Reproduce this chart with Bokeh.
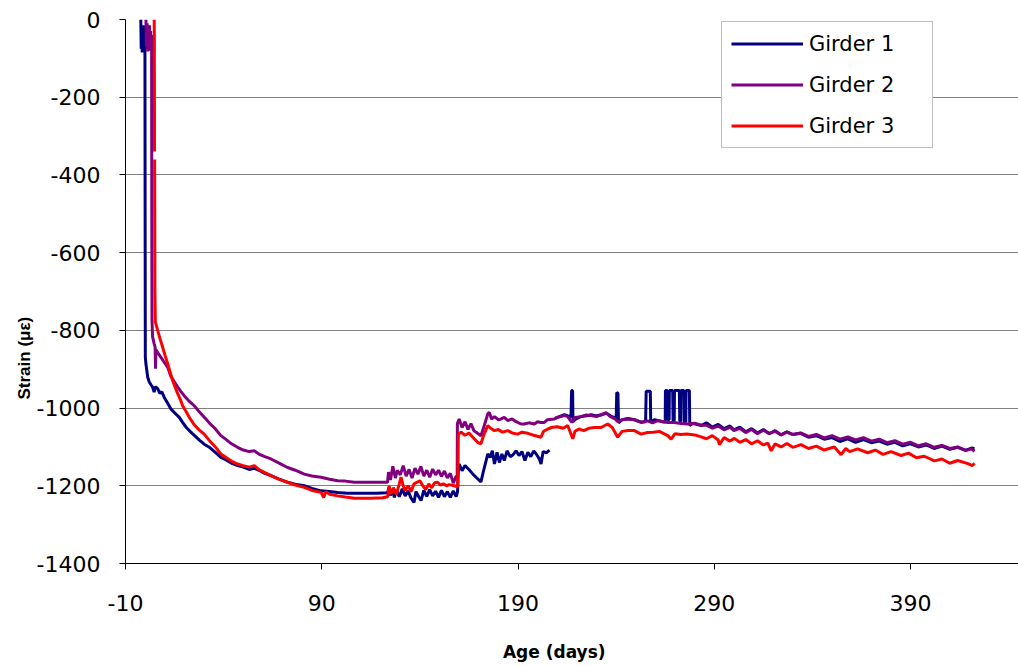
import math
from bokeh.plotting import figure
from bokeh.models import FixedTicker, Legend, LegendItem, ColumnDataSource, CustomJSTickFormatter, Title
from bokeh.embed import file_html
from bokeh.resources import INLINE

nan = float("nan")

# ---------------- data ----------------
x_ticks = [-10, 90, 190, 290, 390]
y_ticks = [-1400, -1200, -1000, -800, -600, -400, -200, 0]
series_names = ["Girder 1", "Girder 2", "Girder 3"]
x_title = "Age (days)"
y_title = "Strain (\u03bc\u03b5)"

g1_day = [-2.2, -2.0, -1.8, -1.5, -1.2, -0.9, -0.6, -0.3, -0.1, 0.0, 0.1, 0.4, 0.9, 1.3, 2.1, 3.0, 3.8, 4.6, 5.2, 6.4,
          7.5, 8.5, 9.7, 11.2, 13.1, 15.0, 17.4, 19.0, 21.0, 23.3, 25.5, 27.8, 30.1, 32.5, 35.5, 38.6, 41.5, 44.5, 47.1, 50.0,
          53.0, 55.6, 58.0, 61.0, 64.1, 68.0, 72.6, 76.5, 81.1, 85.0, 89.6, 94.0, 98.1, 103, 110, 118, 123.5,
          124.2, 125.0, 126.0, 127.0, 128.0, 129.5, 131.0, 132.5, 134.0, 135.5, 137.0, 138.0, 139.5, 140.6, 142.0, 143.5,
          145.0, 146.5, 148.0, 149.5, 151.0, 152.5, 154.0, 155.5, 157.0, 158.5, 159.2,
          159.5, 160.0, 161.5, 163.0, 165.0, 167.0, 169.0, 171.1, 172.5, 174.6, 175.8, 176.9, 178.0, 179.3, 180.5, 181.8,
          183.0, 184.4, 186.0, 187.5, 189.0, 190.5, 192.0, 193.5, 195.0, 196.5, 198.0, 199.5, 200.8, 201.7, 202.8, 204.5, 206.0,
          206.5,
          209.0, 211.0, 213.6, 215.5, 217.0, 217.3, 217.8, 218.0, 219.5, 222.0, 225.0, 227.2, 230.0, 232.3, 234.9, 237.0,
          239.5, 240.0, 240.3, 240.9, 241.2, 243.0, 246.0, 249.3, 252.7, 255.0, 255.3, 257.4, 257.6, 259.5, 261.2, 263.5,
          265.0, 265.1, 266.0, 266.3, 267.0, 267.1, 268.8, 269.0, 269.6, 269.7, 272.2, 272.4, 272.9, 273.0, 274.5, 274.7,
          275.5, 275.6, 277.3, 277.5, 279.0, 281.0, 283.3,
          286, 289, 292, 295, 298, 300, 303, 306, 309, 312, 315, 318, 321, 324, 327, 330, 334, 338, 342, 346, 350, 354,
          358, 362, 366, 370, 374, 378, 382, 386, 390, 394, 398, 402, 406, 410, 414, 418, 421, 422.6]
g1_strain = [0, -75, -20, -85, -30, -80, -15, -70, -40, -500, -869, -886, -905, -920, -933, -940, -946, -959, -945, -950,
             -962, -958, -972, -985, -1002, -1012, -1024, -1036, -1050, -1062, -1072, -1083, -1093, -1100, -1113, -1127, -1134, -1143, -1148, -1152,
             -1158, -1155, -1160, -1168, -1174, -1182, -1191, -1196, -1200, -1207, -1213, -1215, -1217, -1219, -1219, -1219, -1218,
             -1205, -1225, -1210, -1230, -1212, -1228, -1208, -1226, -1213, -1232, -1243, -1215, -1229, -1238, -1212, -1227,
             -1210, -1226, -1214, -1230, -1212, -1228, -1215, -1230, -1213, -1228, -1215,
             -1166, -1144, -1161, -1148, -1158, -1170, -1180, -1190, -1160, -1118, -1127, -1110, -1144, -1114, -1140, -1118,
             -1135, -1110, -1125, -1120, -1110, -1122, -1112, -1135, -1114, -1125, -1110, -1120, -1130, -1144, -1112, -1115, -1108,
             nan,
             -1026, -1022, -1017, -1020, -1022, -955, -955, -1035, -1028, -1022, -1020, -1017, -1020, -1018, -1013, -1020,
             -1025, -1030, -960, -962, -1038, -1030, -1027, -1030, -1036, -1035, -957, -957, -1035, -1030, -1032, -1035,
             -1036, -955, -955, -1030, -1030, -955, -955, -1032, -1032, -955, -955, -1034, -1034, -955, -955, -1036,
             -1036, -955, -955, -1045, -1040, -1042, -1045,
             -1038, -1049, -1042, -1053, -1046, -1056, -1049, -1061, -1053, -1064, -1055, -1066, -1058, -1069, -1061, -1068,
             -1065, -1075, -1071, -1080, -1076, -1086, -1079, -1088, -1081, -1089, -1085, -1093, -1088, -1097, -1092, -1100,
             -1095, -1104, -1098, -1106, -1101, -1109, -1103, -1104]

g2_day = [0.4, 0.7, 1.0, 1.3, 1.6, 1.9, 2.2, 2.5, 2.8, 3.1, 3.3, 3.4, 3.5, 3.8, 4.6, 5.1, 5.3, 5.5, 6.5, 8.0,
          9.7, 11.5, 13.1, 14.8, 16.6, 18.2, 19.9, 22.0, 25.0, 27.0, 29.3, 31.0, 33.0, 35.5, 38.6, 41.0, 44.0, 47.1, 50.0, 53.0,
          55.6, 58.5, 61.0, 64.1, 68.0, 72.6, 76.5, 81.1, 85.0, 89.6, 94.0, 98.1, 102.0, 106.6, 115.0, 123.5,
          124.0, 125.0, 126.2, 127.5, 128.5, 130.0, 131.5, 133.0, 134.5, 136.0, 137.5, 139.0, 140.5, 142.0, 143.5, 145.0,
          146.5, 148.0, 149.5, 151.0, 152.5, 154.0, 155.5, 157.0, 158.5, 159.0,
          159.1, 160.0, 161.5, 163.0, 164.5, 166.0, 167.5, 169.4, 171.1, 172.5, 174.6, 175.4, 176.5, 178.0, 180.0, 181.3,
          183.0, 184.8, 187.0, 189.0, 191.5, 193.2, 195.5, 198.3, 200.0, 201.7, 203.4, 205.0, 208.5, 210.2, 213.6, 215.3,
          217.4, 219.0, 222.0, 224.5, 227.2, 230.0, 232.3, 234.9, 237.0, 239.5, 241.0, 243.0, 246.0, 249.3, 252.7, 256.0,
          258.5, 261.2, 264.0, 266.3, 269.7, 273.0, 276.5, 280.0, 283.3,
          286, 289, 292, 295, 298, 300, 303, 306, 309, 312, 315, 318, 321, 324, 327, 330, 334, 338, 342, 346, 350, 354,
          358, 362, 366, 370, 374, 378, 382, 386, 390, 394, 398, 402, 406, 410, 414, 418, 421, 422.6]
g2_strain = [0, -70, -10, -82, -25, -75, -15, -80, -30, -70, -40, -500, -774, -817, -834, -843, -899, -850, -858, -869,
             -882, -895, -918, -932, -946, -957, -968, -980, -994, -1006, -1019, -1028, -1040, -1052, -1071, -1080, -1092, -1101, -1108, -1112,
             -1110, -1120, -1125, -1131, -1141, -1153, -1160, -1170, -1175, -1178, -1183, -1187, -1188, -1191, -1191, -1191,
             -1165, -1185, -1150, -1180, -1160, -1172, -1148, -1175, -1158, -1180, -1155, -1170, -1150, -1175, -1160, -1178,
             -1157, -1172, -1160, -1176, -1162, -1180, -1168, -1193, -1175, -1180,
             -1040, -1028, -1050, -1035, -1055, -1040, -1058, -1065, -1071, -1050, -1015, -1011, -1028, -1022, -1030, -1028,
             -1024, -1032, -1028, -1035, -1041, -1041, -1038, -1041, -1035, -1037, -1037, -1030, -1028, -1024, -1019, -1022,
             -1037, -1024, -1022, -1018, -1019, -1022, -1017, -1012, -1022, -1028, -1036, -1030, -1028, -1030, -1037, -1033,
             -1038, -1032, -1035, -1037, -1037, -1040, -1041, -1039, -1044,
             -1044, -1052, -1046, -1056, -1049, -1058, -1052, -1063, -1055, -1066, -1057, -1065, -1060, -1069, -1062, -1068,
             -1064, -1073, -1068, -1077, -1071, -1080, -1074, -1082, -1076, -1085, -1080, -1089, -1084, -1093, -1088, -1097,
             -1092, -1101, -1096, -1104, -1100, -1109, -1105, -1111]

g3_day = [4.6, 4.7, 4.8, 4.8, 4.85, 5.0, 5.2, 6.4, 7.5, 8.9, 10.2, 11.5, 12.8, 14.0, 15.3, 16.6, 18.2, 19.1, 20.8, 22.5,
          25.0, 27.5, 30.1, 33.0, 35.8, 38.6, 41.5, 44.5, 47.1, 50.0, 53.0, 55.6, 58.0, 61.0, 64.1, 68.0, 72.6, 76.5, 81.1, 85.0,
          89.6, 91.0, 92.0, 94.0, 98.1, 102.0, 106.6, 115.0, 121.0, 123.6,
          124.3, 125.2, 126.5, 128.0, 129.5, 130.4, 131.5, 132.5, 134.0, 135.5, 137.0, 138.5, 140.0, 141.5, 143.0, 144.5,
          146.0, 147.5, 149.0, 150.5, 152.0, 153.5, 155.0, 157.5, 159.3,
          159.6, 161.0, 163.0, 165.0, 167.0, 169.4, 171.1, 172.5, 174.6, 176.0, 178.0, 180.0, 182.0, 184.8, 187.0, 189.8,
          192.0, 195.0, 198.0, 201.7, 203.0, 205.1, 207.0, 210.0, 213.0, 215.3, 217.9, 219.0, 221.0, 223.5, 226.0, 229.0,
          232.3, 235.7, 238.0, 240.8, 243.0, 246.0, 249.3, 252.7, 256.0, 259.0, 262.0, 266.3, 268.0, 270.0, 273.0, 276.0,
          280.0, 283.3, 286, 289, 292, 292.6, 295, 298, 300.2, 303, 306, 309, 312, 315, 317.3, 319, 321, 324, 327, 330, 334.2,
          338, 342, 346, 351.2, 354.6, 357, 359, 363, 368.2, 372, 376, 380, 385.2, 389, 393, 397, 402.2, 406, 410, 414, 419.2,
          421.5, 422.6]
g3_strain = [0, -40, -340, nan, -360, -700, -778, -800, -820, -843, -865, -886, -908, -929, -946, -963, -981, -994, -1008, -1024,
             -1043, -1056, -1067, -1085, -1100, -1118, -1128, -1138, -1144, -1148, -1152, -1148, -1158, -1166, -1174, -1183, -1191, -1198, -1204, -1212,
             -1217, -1230, -1215, -1222, -1226, -1229, -1232, -1232, -1231, -1228,
             -1200, -1221, -1205, -1222, -1195, -1178, -1200, -1213, -1200, -1215, -1195, -1191, -1187, -1200, -1210, -1195,
             -1205, -1192, -1191, -1198, -1195, -1200, -1197, -1200, -1203,
             -1067, -1062, -1070, -1064, -1075, -1088, -1092, -1070, -1045, -1052, -1058, -1055, -1062, -1058, -1064, -1067,
             -1062, -1065, -1070, -1075, -1060, -1054, -1050, -1048, -1052, -1045, -1079, -1060, -1054, -1058, -1052, -1050,
             -1050, -1041, -1050, -1075, -1060, -1058, -1058, -1067, -1063, -1062, -1060, -1071, -1080, -1066, -1068, -1067,
             -1069, -1074, -1079, -1071, -1082, -1094, -1076, -1085, -1078, -1088, -1081, -1092, -1084, -1095, -1090, -1110, -1092, -1100, -1091, -1101, -1094,
             -1104, -1098, -1108, -1100, -1120, -1104, -1112, -1105, -1115, -1108, -1119, -1112, -1122, -1116, -1128, -1124, -1136, -1131, -1142, -1135, -1143,
             -1148, -1142]

colors = ["#000080", "#800080", "#FF0000"]

# ---------------- figure ----------------
p = figure(width=1018, height=666, x_range=(-10, 445), y_range=(-1400, 0),
           output_backend="svg", toolbar_location=None,
           min_border_left=125, min_border_right=0, min_border_top=19, min_border_bottom=103)
p.outline_line_color = None
p.background_fill_color = "white"
p.border_fill_color = "white"

renderers = []
for d, s, c in zip([g1_day, g2_day, g3_day], [g1_strain, g2_strain, g3_strain], colors):
    src = ColumnDataSource(dict(x=d, y=s))
    r = p.line("x", "y", source=src, line_color=c, line_width=3)
    renderers.append(r)

p.xaxis.ticker = FixedTicker(ticks=x_ticks)
p.yaxis.ticker = FixedTicker(ticks=y_ticks)
fmt = "return tick.toString();"
p.xaxis.formatter = CustomJSTickFormatter(code=fmt)
p.yaxis.formatter = CustomJSTickFormatter(code=fmt)
p.xgrid.grid_line_color = None
p.ygrid.grid_line_color = "#808080"
p.ygrid.grid_line_width = 1

tick_font = "DejaVu Sans"
for ax in (p.xaxis[0], p.yaxis[0]):
    ax.axis_line_color = "black"
    ax.axis_line_width = 1
    ax.major_tick_line_color = "black"
    ax.major_tick_out = 6
    ax.major_tick_in = 0
    ax.minor_tick_line_color = None
    ax.major_label_text_font = tick_font
    ax.major_label_text_font_size = "22px"
    ax.major_label_text_color = "black"

p.xaxis.major_label_standoff = 25
p.yaxis.major_label_standoff = 19

# x title: axis label, nudged left of the frame centre (as in the original) by trailing no-break spaces
p.xaxis.axis_label = x_title + "\u00a0" * 6
p.xaxis.axis_label_text_font = "DejaVu Sans"
p.xaxis.axis_label_text_font_style = "bold"
p.xaxis.axis_label_text_font_size = "17px"
p.xaxis.axis_label_text_color = "black"
p.xaxis.axis_label_standoff = 28

# y title placed below the frame centre, as in the original
yt = Title(text=y_title, align="left", offset=164, standoff=0,
           text_font="Liberation Sans", text_font_style="bold", text_font_size="17px", text_color="black")
p.add_layout(yt, "left")

legend = Legend(items=[LegendItem(label=n, renderers=[r]) for n, r in zip(series_names, renderers)],
                location=(596, 415), orientation="vertical")
legend.label_text_font = "DejaVu Sans"
legend.label_text_font_size = "21px"
legend.label_text_color = "black"
legend.glyph_width = 72
legend.glyph_height = 25
legend.label_height = 25
legend.label_standoff = 6
legend.label_width = 114
legend.spacing = 16
legend.padding = 9
legend.margin = 0
legend.border_line_color = "#808080"
legend.border_line_width = 1
legend.background_fill_color = "white"
legend.background_fill_alpha = 1
p.add_layout(legend)

open("out.html", "w").write(file_html(p, INLINE))
